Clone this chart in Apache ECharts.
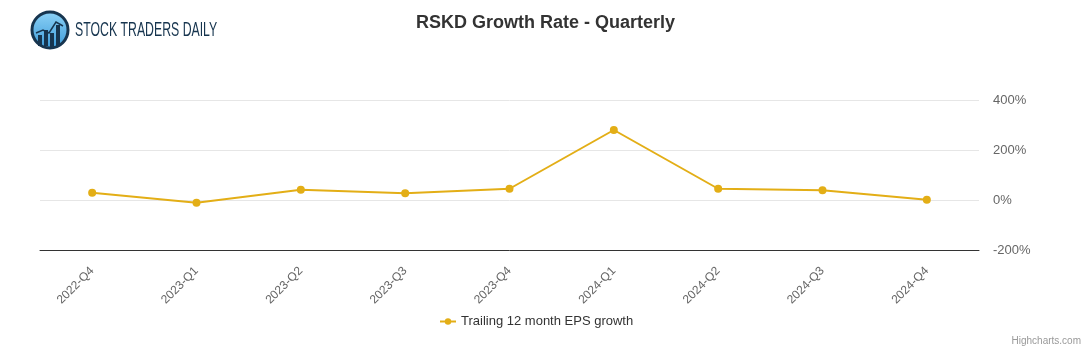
<!DOCTYPE html>
<html>
<head>
<meta charset="utf-8">
<script src="https://cdn.jsdelivr.net/npm/echarts@6/dist/echarts.min.js"></script>
<style>
  html, body { margin: 0; padding: 0; background: #fff; }
  #chart { width: 1091px; height: 350px; }
</style>
</head>
<body>
<div id="chart"></div>
<script>
// values
var quarters = ['2022-Q4', '2023-Q1', '2023-Q2', '2023-Q3', '2023-Q4', '2024-Q1', '2024-Q2', '2024-Q3', '2024-Q4'];
var epsGrowth = [29, -11, 41, 27, 45, 280, 45, 39, 1];
var seriesName = 'Trailing 12 month EPS growth';
var yTicks = [-200, 0, 200, 400];

var chart = echarts.init(document.getElementById('chart'), null, { renderer: 'canvas' });

chart.setOption({
  animation: false,
  backgroundColor: '#ffffff',
  title: {
    text: 'RSKD Growth Rate - Quarterly',
    left: 'center',
    top: 9,
    textStyle: { fontFamily: 'Liberation Sans, Arial', fontSize: 18, fontWeight: 'bold', color: '#333333' }
  },
  legend: {
    data: [seriesName],
    bottom: 17,
    left: 434,
    itemWidth: 16,
    itemHeight: 8,
    itemGap: 6,
    textStyle: { fontFamily: 'Liberation Sans, Arial', fontSize: 13, color: '#333333' }
  },
  grid: { left: 40, right: 112, top: 100, bottom: 100, containLabel: false },
  xAxis: {
    type: 'category',
    data: quarters,
    boundaryGap: true,
    axisLine: { onZero: false, lineStyle: { color: '#333333', width: 1 } },
    axisTick: { show: false },
    axisLabel: {
      rotate: 45,
      margin: 19,
      color: '#666666',
      fontFamily: 'Liberation Sans, Arial',
      fontSize: 12
    }
  },
  yAxis: {
    type: 'value',
    position: 'right',
    min: yTicks[0],
    max: yTicks[yTicks.length - 1],
    interval: 200,
    axisLine: { show: false },
    axisTick: { show: false },
    splitLine: { lineStyle: { color: '#e6e6e6', width: 1 } },
    axisLabel: {
      margin: 14,
      color: '#666666',
      fontFamily: 'Liberation Sans, Arial',
      fontSize: 13,
      formatter: '{value}%'
    }
  },
  series: [{
    name: seriesName,
    type: 'line',
    data: epsGrowth,
    symbol: 'circle',
    symbolSize: 8,
    itemStyle: { color: '#e3ae16' },
    lineStyle: { color: '#e3ae16', width: 2 }
  }],
  graphic: [
    // logo
    {
      type: 'circle', shape: { cx: 50, cy: 30, r: 18 },
      style: {
        fill: new echarts.graphic.LinearGradient(0, 0, 0, 1, [
          { offset: 0, color: '#8fd3f7' }, { offset: 1, color: '#3a9ad9' }
        ]),
        stroke: '#17354f', lineWidth: 3
      }
    },
    { type: 'rect', shape: { x: 38, y: 35, width: 4, height: 11 }, style: { fill: '#17354f' } },
    { type: 'rect', shape: { x: 44, y: 30, width: 4, height: 16 }, style: { fill: '#17354f' } },
    { type: 'rect', shape: { x: 50, y: 33, width: 4, height: 14 }, style: { fill: '#17354f' } },
    { type: 'rect', shape: { x: 56, y: 25, width: 4, height: 21 }, style: { fill: '#17354f' } },
    {
      type: 'polyline', shape: { points: [[36, 33], [43, 30], [49, 33], [56, 22], [63, 26]] },
      style: { stroke: '#17354f', lineWidth: 1.5, fill: null }
    },
    {
      type: 'text', x: 75, y: 20, scaleX: 0.585, scaleY: 1,
      style: {
        text: 'STOCK TRADERS DAILY',
        fontFamily: 'Liberation Sans, Arial',
        fontSize: 21, fill: '#17354f'
      }
    },
    // credits
    {
      type: 'text', right: 10, bottom: 4,
      style: { text: 'Highcharts.com', fontFamily: 'Liberation Sans, Arial', fontSize: 10, fill: '#999999' }
    }
  ]
});

window.addEventListener('resize', function () {
  chart.resize();
});
</script>
</body>
</html>
